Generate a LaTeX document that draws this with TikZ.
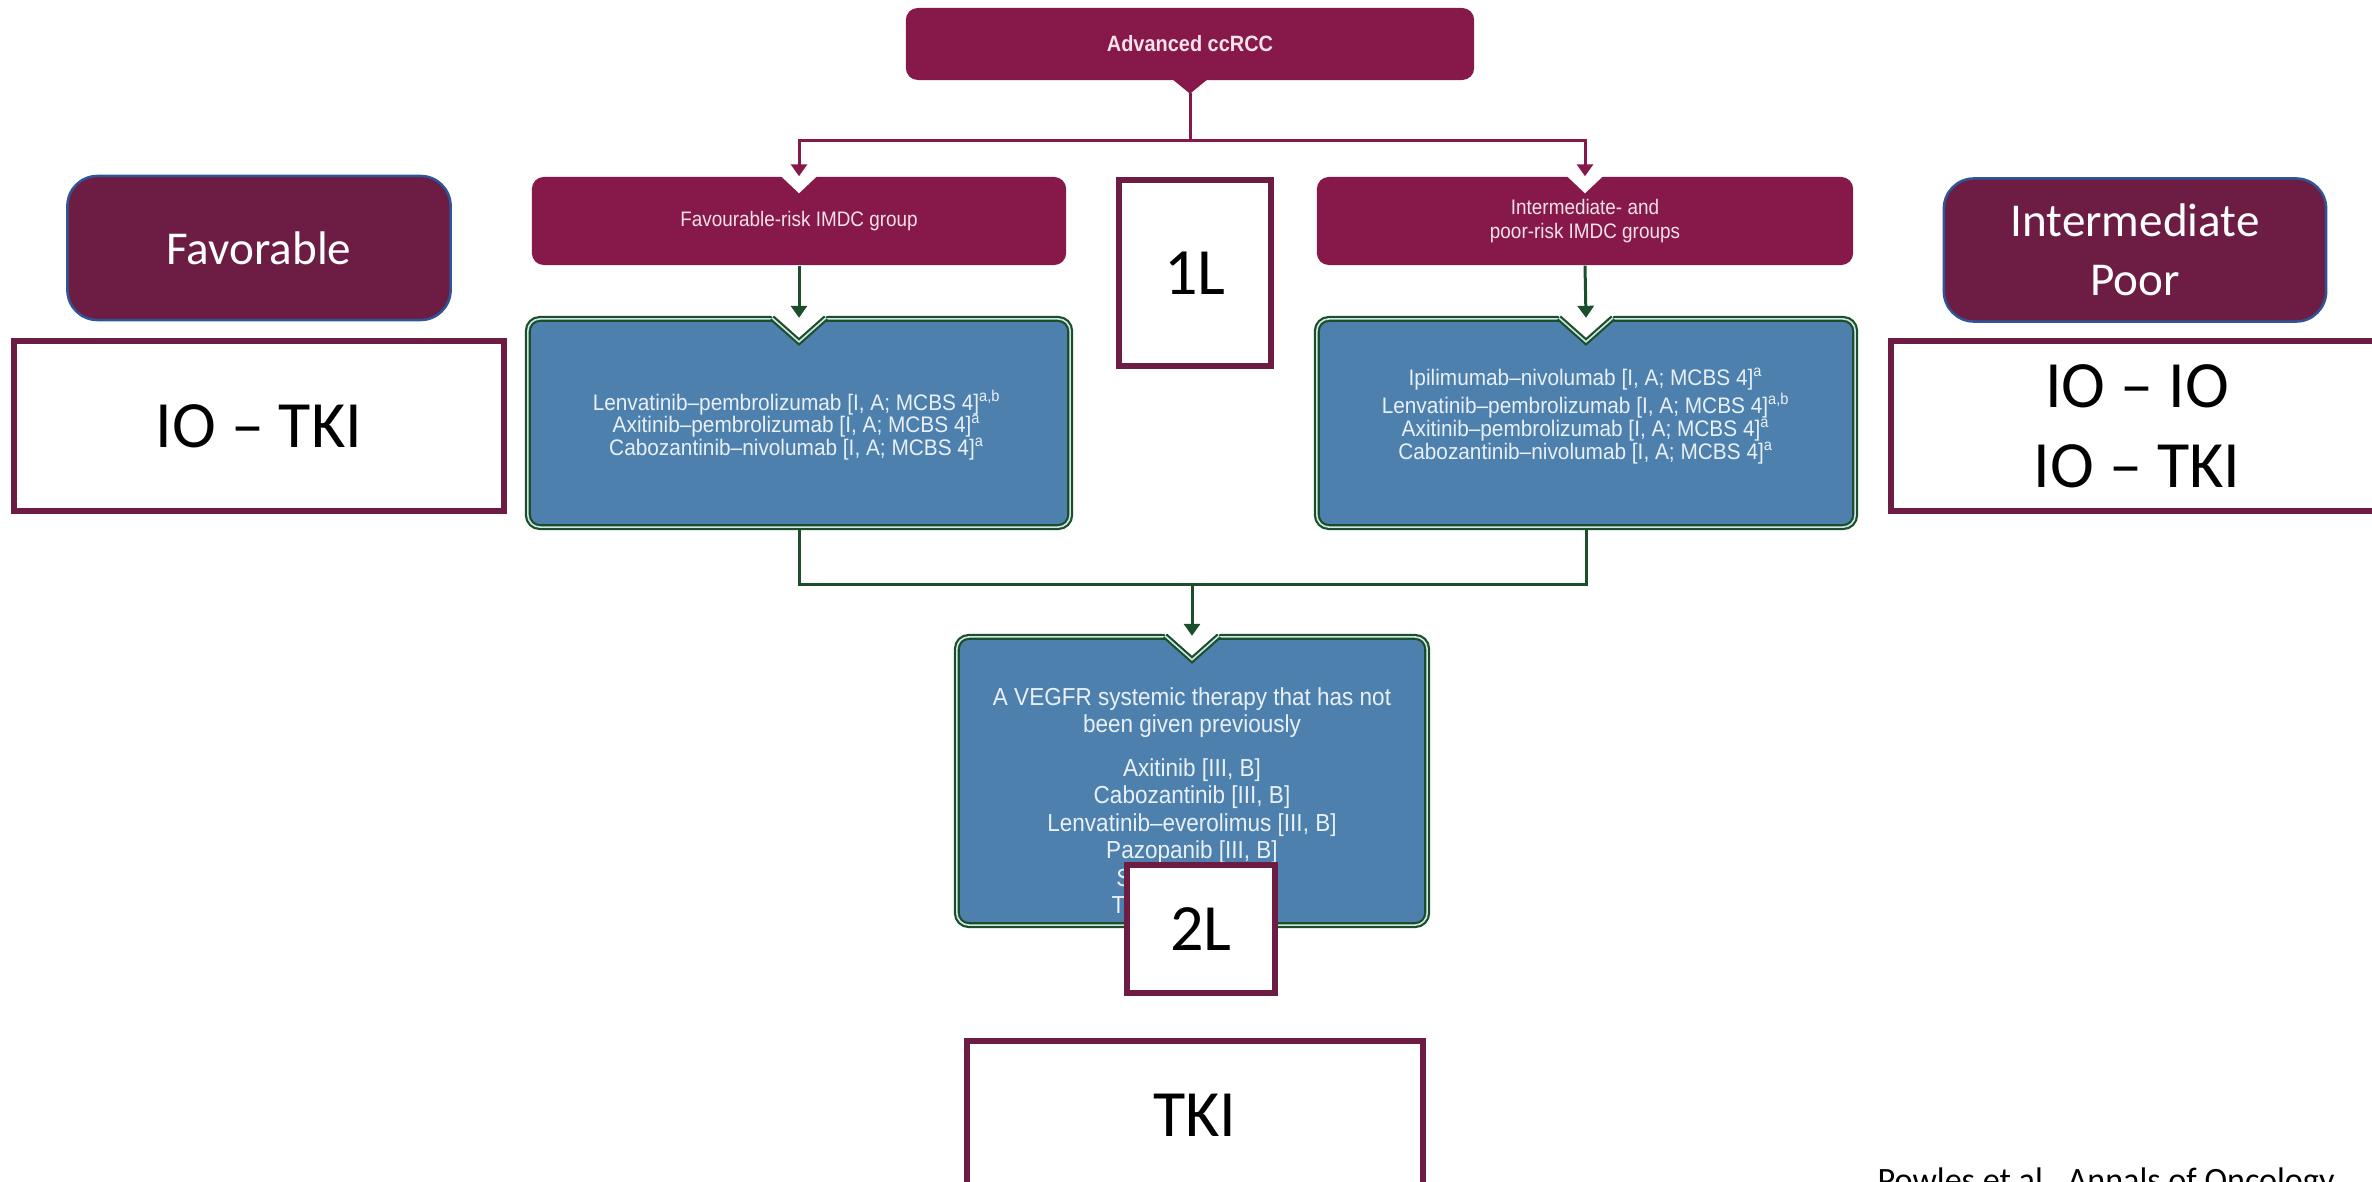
\documentclass[tikz,border=0pt]{standalone}
\usepackage{fontspec}
\setmainfont{Carlito}
\newfontfamily\condf[FakeStretch=0.9,Ligatures=TeX]{Liberation Sans}
\newfontfamily\condg[FakeStretch=0.925,Ligatures=TeX]{Liberation Sans}
\newfontfamily\condv[FakeStretch=0.915,Ligatures=TeX]{Liberation Sans}
\usetikzlibrary{arrows.meta,calc}
\definecolor{gmar}{RGB}{134,24,74}
\definecolor{omar}{RGB}{109,29,67}
\definecolor{oblue}{RGB}{47,85,151}
\definecolor{bfill}{RGB}{78,128,173}
\definecolor{dgreen}{RGB}{28,78,44}
\definecolor{lline}{RGB}{205,232,228}
\definecolor{gtext}{RGB}{245,225,232}
\definecolor{btext}{RGB}{232,240,248}
\newcommand\gsz{\fontsize{5.97pt}{6.69pt}\selectfont}
\newcommand\tsz{\fontsize{6.3pt}{7pt}\selectfont}
\newcommand\lsz{\fontsize{6.4pt}{6.46pt}\selectfont}
\newcommand\vsz{\fontsize{7.0pt}{7.82pt}\selectfont}
\newcommand\bigsz{\fontsize{18.8pt}{22.8pt}\selectfont}
\newcommand\midsz{\fontsize{13.4pt}{16.8pt}\selectfont}
\newcommand\citesz{\fontsize{9.7pt}{11pt}\selectfont}
\begin{document}
\begin{tikzpicture}[x=0.01cm,y=-0.01cm,
  gbox/.style={fill=gmar, rounded corners=0.12cm, inner sep=0, text=gtext, font=\condf\gsz, align=center},
  bbox/.style={fill=bfill, draw=dgreen, line width=0.022cm, double=lline, double distance=0.016cm, rounded corners=0.12cm, inner sep=0},
  vline/.style={draw=dgreen, line width=0.022cm, double=lline, double distance=0.016cm},
  btxt/.style={text=btext, inner sep=0, align=center},
  marrow/.style={draw=gmar, line width=0.03cm, -{Triangle[width=0.16cm,length=0.12cm]}},
  mline/.style={draw=gmar, line width=0.03cm},
  garrow/.style={draw=dgreen, line width=0.03cm, -{Triangle[width=0.16cm,length=0.12cm]}},
  gline/.style={draw=dgreen, line width=0.03cm},
  ovbox/.style={draw=omar, line width=0.06cm, fill=white, inner sep=0, font=\bigsz, align=center},
  ovround/.style={fill=omar, draw=oblue, line width=0.025cm, rounded corners=0.3cm, text=white, inner sep=0, font=\midsz, align=center}]
\useasboundingbox (0,0) rectangle (2372,1182);
\clip (0,0) rectangle (2372,1182);
\fill[white] (0,0) rectangle (2372,1182);

% guideline boxes
\node[gbox, minimum width=5.68cm, minimum height=0.72cm, font=\condf\tsz] (top) at (1190,44) {\bfseries Advanced ccRCC};
\node[gbox, minimum width=5.34cm, minimum height=0.88cm] (fav) at (799,221) {Favourable-risk IMDC group};
\node[gbox, minimum width=5.36cm, minimum height=0.88cm] (int) at (1585,221) {Intermediate- and\\poor-risk IMDC groups};
\node[bbox, minimum width=5.42cm, minimum height=2.08cm] (lb) at (799,423) {};
\node[bbox, minimum width=5.38cm, minimum height=2.08cm] (rb) at (1586,423) {};
\node[bbox, minimum width=4.70cm, minimum height=2.88cm] (vb) at (1192,781) {};

% pointer below top box and notches
\fill[gmar] ($(top.south)+(-17,-1)$) -- ($(top.south)+(17,-1)$) -- ($(top.south)+(0,13)$) -- cycle;
\coordinate (tp) at ($(top.south)+(0,12)$);
\foreach \n in {fav,int}{
  \fill[white] ($(\n.north)+(-19,-1)$) -- ($(\n.north)+(19,-1)$) -- ($(\n.north)+(0,17)$) -- cycle;
}
\foreach \n in {lb,rb,vb}{
  \fill[white] ($(\n.north)+(-31,-5)$) -- ($(\n.north)+(31,-5)$) -- ($(\n.north)+(0,24)$) -- cycle;
  \draw[vline] ($(\n.north)+(-27,0)$) -- ($(\n.north)+(0,24)$) -- ($(\n.north)+(27,0)$);
}

% texts of blue boxes
\node[btxt, font=\condg\lsz] (lbt) at (797,425) {Lenvatinib--pembrolizumab [I, A; MCBS 4]\textsuperscript{a,b}\\Axitinib--pembrolizumab [I, A; MCBS 4]\textsuperscript{a}\\Cabozantinib--nivolumab [I, A; MCBS 4]\textsuperscript{a}};
\node[btxt, font=\condg\lsz] (rbt) at (1586,416) {Ipilimumab--nivolumab [I, A; MCBS 4]\textsuperscript{a}\\Lenvatinib--pembrolizumab [I, A; MCBS 4]\textsuperscript{a,b}\\Axitinib--pembrolizumab [I, A; MCBS 4]\textsuperscript{a}\\Cabozantinib--nivolumab [I, A; MCBS 4]\textsuperscript{a}};
\node[btxt, font=\condv\vsz] (vbt) at (1192,803) {A VEGFR systemic therapy that has not\\been given previously\\[0.16cm]Axitinib [III, B]\\Cabozantinib [III, B]\\Lenvatinib--everolimus [III, B]\\Pazopanib [III, B]\\Sunitinib [III, B]\\Tivozanib [III, B]};

% connectors
\coordinate (mj) at (1190,141);
\draw[mline] (tp) -- (mj);
\draw[marrow] (mj) -| (fav.north);
\draw[marrow] (mj) -| (int.north);
\draw[garrow] (fav.south) -- (lb.north);
\draw[garrow] (int.south) -- (rb.north);
\coordinate (gj) at (1192,584);
\draw[gline] (lb.south) |- (gj) -| (rb.south);
\draw[garrow] (gj) -- (vb.north);

% overlay boxes
\node[ovround, minimum width=3.83cm, minimum height=1.44cm] (favl) at (259,248) {Favorable};
\node[ovround, minimum width=3.82cm, minimum height=1.43cm] (intl) at (2135,250) {Intermediate\\Poor};
\node[ovbox, minimum width=4.90cm, minimum height=1.70cm] (iot) at (259,426) {IO -- TKI};
\node[ovbox, minimum width=4.92cm, minimum height=1.70cm] (ioio) at (2137,426) {IO -- IO\\IO -- TKI};
\node[ovbox, minimum width=1.52cm, minimum height=1.85cm] (l1) at (1195,273) {1L};
\node[ovbox, minimum width=1.48cm, minimum height=1.28cm] (l2) at (1201,929) {2L};
\node[ovbox, minimum width=4.55cm, minimum height=1.48cm] (tki) at (1195,1115) {TKI};
\node[anchor=base west, font=\citesz, inner sep=0] (cite) at (1877,1191) {Powles et al., Annals of Oncology};
\end{tikzpicture}
\end{document}
